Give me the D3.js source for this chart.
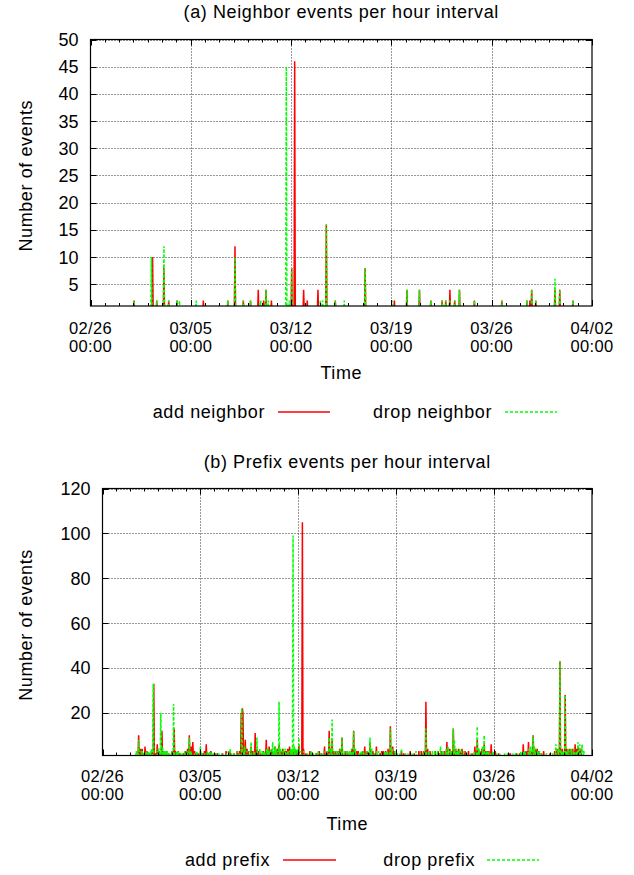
<!DOCTYPE html>
<html>
<head>
<meta charset="utf-8">
<script src="https://cdn.jsdelivr.net/npm/d3@7"></script>
<style>
  html, body { margin: 0; padding: 0; background: #fff; }
  svg text { font-family: "Liberation Sans", Arial, Helvetica, sans-serif; fill: #000; }
</style>
</head>
<body>
<svg id="chart" width="634" height="875"></svg>
<script>
// ---------- DATA (hour offset from 02/26 00:00, events in that hour) ----------
const startDate = Date.UTC(2007, 1, 26);
const endDate = Date.UTC(2007, 3, 2);
const xTickLabels = ["02/26", "03/05", "03/12", "03/19", "03/26", "04/02"];
const xTickDays = [0, 7, 14, 21, 28, 35];

const neighborTicks = [5, 10, 15, 20, 25, 30, 35, 40, 45, 50];
const prefixTicks = [20, 40, 60, 80, 100, 120];

const addNeighbor = [[73,2],[104,10],[111,2],[123,8],[131,2],[145,2],[189,2],[230,2],[242,12],[256,2],[268,2],[281,4],[290,2],[294,4],[303,2],[337,8],[342,46],[357,4],[363,2],[381,4],[395,16],[410,2],[460,8],[509,2],[530,4],[551,4],[570,2],[589,2],[595,2],[602,4],[610,2],[618,4],[643,2],[689,2],[731,2],[736,2],[739,4],[746,2],[778,4],[786,4],[808,2]];
const dropNeighbor = [[73,2],[102,10],[111,2],[123,12],[131,2],[145,2],[149,2],[177,2],[230,2],[242,10],[256,2],[268,2],[285,2],[294,4],[298,2],[328,45],[333,2],[337,8],[385,2],[389,2],[395,16],[410,2],[425,2],[460,8],[505,2],[530,4],[551,4],[570,2],[589,2],[595,2],[602,2],[610,2],[618,4],[643,2],[689,2],[731,2],[739,4],[746,2],[778,6],[786,4],[808,2]];

const addPrefix = [[62,10],[65,4],[68,4],[73,5],[76,3],[80,2],[84,3],[88,33],[91,2],[94,6],[97,3],[102,12],[106,2],[110,3],[113,2],[119,3],[123,13],[125,3],[130,3],[133,2],[139,2],[143,3],[146,4],[149,10],[152,5],[155,7],[158,3],[161,2],[164,2],[168,3],[172,2],[175,3],[178,6],[181,2],[186,3],[193,2],[197,2],[206,2],[212,3],[219,3],[226,2],[231,3],[235,3],[238,20],[240,22],[241,20],[245,8],[248,4],[250,3],[255,5],[258,3],[262,11],[265,4],[268,3],[272,2],[276,3],[281,8],[283,4],[286,5],[289,3],[291,4],[293,3],[296,5],[298,3],[300,4],[303,6],[306,3],[309,4],[312,3],[315,3],[318,4],[321,5],[325,3],[327,4],[330,3],[333,3],[337,6],[343,105],[345,4],[349,2],[356,3],[360,2],[367,2],[372,3],[376,2],[381,5],[385,3],[389,12],[392,4],[394,8],[397,3],[400,3],[404,3],[407,4],[411,9],[416,3],[420,3],[424,3],[428,4],[431,12],[436,3],[439,3],[443,2],[447,3],[450,5],[454,3],[459,7],[464,3],[467,2],[470,5],[476,2],[479,3],[482,3],[486,3],[490,4],[494,14],[498,5],[501,3],[505,2],[513,3],[517,2],[528,3],[535,2],[543,3],[547,3],[551,3],[555,25],[558,4],[562,3],[571,3],[576,3],[579,2],[582,3],[587,3],[591,7],[596,4],[599,3],[602,13],[606,4],[609,3],[611,4],[614,3],[617,4],[622,3],[628,3],[634,2],[639,5],[643,8],[645,4],[648,3],[651,4],[655,6],[658,3],[660,3],[663,3],[667,6],[670,2],[674,3],[680,2],[697,2],[700,2],[710,2],[716,2],[722,6],[726,3],[729,3],[731,7],[736,3],[739,10],[743,4],[746,4],[749,3],[753,2],[757,3],[768,2],[776,3],[780,4],[785,43],[789,4],[794,28],[797,4],[800,3],[802,4],[804,3],[807,4],[811,6],[814,4],[816,5],[819,3],[821,4]];
const dropPrefix = [[58,3],[62,8],[66,3],[68,3],[71,2],[75,3],[79,3],[82,2],[84,4],[87,33],[93,3],[96,4],[100,20],[103,5],[105,3],[107,3],[109,3],[111,3],[114,2],[116,2],[119,3],[122,24],[127,3],[130,3],[134,2],[137,2],[141,3],[145,3],[149,9],[152,3],[158,2],[162,3],[168,5],[171,2],[175,2],[180,3],[184,3],[187,2],[190,2],[195,2],[200,2],[205,2],[212,2],[216,3],[219,4],[222,2],[226,2],[231,3],[235,2],[239,22],[241,4],[244,5],[248,3],[252,3],[255,7],[260,3],[265,9],[270,4],[274,3],[277,3],[279,2],[282,4],[284,4],[286,3],[288,4],[292,7],[294,3],[296,5],[298,4],[300,3],[303,25],[305,4],[308,3],[311,4],[314,4],[318,3],[320,3],[323,4],[325,4],[327,99],[329,5],[331,4],[334,4],[337,9],[340,3],[345,3],[352,2],[358,3],[362,2],[366,2],[370,3],[375,2],[380,3],[385,3],[389,9],[392,4],[394,17],[398,3],[401,3],[404,3],[408,4],[411,9],[415,3],[420,3],[424,3],[427,4],[431,12],[434,4],[440,2],[444,3],[448,3],[452,2],[454,3],[459,9],[462,4],[466,2],[470,3],[474,3],[479,2],[485,3],[489,3],[494,13],[497,4],[502,3],[506,2],[510,2],[513,4],[520,2],[524,2],[532,2],[538,3],[545,2],[552,3],[555,13],[560,3],[566,3],[570,3],[575,3],[580,5],[585,3],[590,4],[593,5],[596,3],[598,3],[602,13],[604,8],[607,4],[610,3],[613,4],[616,3],[620,3],[625,2],[632,2],[638,3],[643,14],[646,4],[648,3],[652,5],[655,10],[659,3],[662,3],[666,2],[670,3],[677,2],[682,2],[690,2],[695,2],[704,2],[708,2],[712,2],[718,3],[722,3],[725,3],[731,4],[735,5],[739,10],[741,5],[744,4],[747,3],[750,3],[754,2],[762,2],[772,2],[778,6],[782,4],[785,43],[788,3],[791,3],[794,28],[797,3],[799,4],[802,3],[805,4],[809,4],[813,3],[816,7],[819,6],[823,6],[826,3]];

// ---------- DRAWING ----------
const svg = d3.select("#chart");
const HOUR = 3600e3;
const totalHours = (endDate - startDate) / HOUR;
const WORD_SPACING = "0.6px";

function hourly(pairs) {
  const m = new Map(pairs.map(d => [d[0], d[1]]));
  return d3.range(0, totalHours + 1).map(h => ({ t: new Date(startDate + h * HOUR), v: m.get(h) || 0 }));
}

function drawPanel(cfg) {
  const { left, right, top, bottom, yMax, yTicks, series, title, titleY, labY1, labGap, timeY, legendY, legend, id } = cfg;
  const x = d3.scaleUtc().domain([new Date(startDate), new Date(endDate)]).range([left, right]);
  const y = d3.scaleLinear().domain([1, yMax]).range([bottom, top]);
  const g = svg.append("g");

  svg.append("clipPath").attr("id", id).append("rect")
    .attr("x", left).attr("y", top).attr("width", right - left).attr("height", bottom - top);

  const majorDates = xTickDays.map(d => new Date(startDate + d * 24 * HOUR));
  const minorDates = d3.utcDay.range(new Date(startDate), new Date(endDate + 1));

  // grid
  g.selectAll(".gy").data(yTicks).join("line")
    .attr("x1", left).attr("x2", right)
    .attr("y1", d => Math.round(y(d)) + 0.5).attr("y2", d => Math.round(y(d)) + 0.5)
    .attr("stroke", "#333").attr("stroke-width", 1).attr("stroke-dasharray", "1,2");
  g.selectAll(".gx").data(majorDates.slice(1, -1)).join("line")
    .attr("x1", d => Math.round(x(d)) + 0.5).attr("x2", d => Math.round(x(d)) + 0.5)
    .attr("y1", top).attr("y2", bottom)
    .attr("stroke", "#333").attr("stroke-width", 1).attr("stroke-dasharray", "1,2");

  // series
  const line = d3.line().x(d => x(d.t)).y(d => y(d.v));
  series.forEach(s => {
    g.append("path").datum(hourly(s.data))
      .attr("clip-path", `url(#${id})`)
      .attr("fill", "none").attr("stroke", s.color).attr("stroke-width", 1.5)
      .attr("stroke-dasharray", s.dash || null)
      .attr("d", line);
  });

  // ticks
  const tk = g.append("g").attr("stroke", "#000").attr("stroke-width", 1);
  minorDates.forEach(d => {
    const px = Math.round(x(d)) + 0.5;
    tk.append("line").attr("x1", px).attr("x2", px).attr("y1", bottom).attr("y2", bottom - 3);
    tk.append("line").attr("x1", px).attr("x2", px).attr("y1", top).attr("y2", top + 3);
  });
  majorDates.forEach(d => {
    const px = Math.round(x(d)) + 0.5;
    tk.append("line").attr("x1", px).attr("x2", px).attr("y1", bottom).attr("y2", bottom - 6);
    tk.append("line").attr("x1", px).attr("x2", px).attr("y1", top).attr("y2", top + 6);
  });
  yTicks.forEach(v => {
    const py = Math.round(y(v)) + 0.5;
    tk.append("line").attr("x1", left).attr("x2", left + 6).attr("y1", py).attr("y2", py);
    tk.append("line").attr("x1", right).attr("x2", right - 6).attr("y1", py).attr("y2", py);
  });

  // frame
  g.append("rect").attr("x", left).attr("y", top).attr("width", right - left).attr("height", bottom - top)
    .attr("fill", "none").attr("stroke", "#000").attr("stroke-width", 1.2);

  // labels
  g.selectAll(".yl").data(yTicks).join("text")
    .attr("x", left - 12).attr("y", d => y(d)).attr("dy", "0.36em")
    .attr("text-anchor", "end").attr("font-size", 18).text(d => d);
  majorDates.forEach((d, i) => {
    g.append("text").attr("x", x(d)).attr("y", labY1).attr("text-anchor", "middle")
      .attr("font-size", 16.5).attr("letter-spacing", "0.3px").text(xTickLabels[i]);
    g.append("text").attr("x", x(d)).attr("y", labY1 + labGap).attr("text-anchor", "middle")
      .attr("font-size", 16.5).attr("letter-spacing", "0.3px").text("00:00");
  });
  g.append("text").attr("x", (left + right) / 2).attr("y", timeY).attr("text-anchor", "middle")
    .attr("font-size", 18).attr("letter-spacing", WORD_SPACING).text("Time");
  g.append("text").attr("x", (left + right) / 2).attr("y", titleY).attr("text-anchor", "middle")
    .attr("font-size", 18).attr("letter-spacing", WORD_SPACING).text(title);
  g.append("text").attr("transform", `translate(31.5,${(top + bottom) / 2 + 3}) rotate(-90)`)
    .attr("text-anchor", "middle").attr("font-size", 18).attr("letter-spacing", WORD_SPACING).text("Number of events");

  // legend
  legend.forEach((l, i) => {
    const s = series[i];
    g.append("text").attr("x", l.textEnd).attr("y", legendY).attr("text-anchor", "end")
      .attr("font-size", 18).attr("letter-spacing", WORD_SPACING).text(l.label);
    g.append("line").attr("x1", l.x1).attr("x2", l.x2).attr("y1", legendY - 6).attr("y2", legendY - 6)
      .attr("stroke", s.color).attr("stroke-width", 1.5).attr("stroke-dasharray", s.dash || null);
  });
}

drawPanel({
  id: "clipA", left: 90.5, right: 592, top: 39.5, bottom: 306, yMax: 50, yTicks: neighborTicks,
  series: [{ data: addNeighbor, color: "#ff0000" }, { data: dropNeighbor, color: "#00ff00", dash: "3,2" }],
  title: "(a) Neighbor events per hour interval", titleY: 18,
  labY1: 333.5, labGap: 18.6, timeY: 379, legendY: 418,
  legend: [{ label: "add neighbor", textEnd: 265, x1: 278, x2: 330 }, { label: "drop neighbor", textEnd: 492, x1: 505, x2: 557 }]
});

drawPanel({
  id: "clipB", left: 102.5, right: 592, top: 488.5, bottom: 755.5, yMax: 120, yTicks: prefixTicks,
  series: [{ data: addPrefix, color: "#ff0000" }, { data: dropPrefix, color: "#00ff00", dash: "3,2" }],
  title: "(b) Prefix events per hour interval", titleY: 468,
  labY1: 781.5, labGap: 18.6, timeY: 830, legendY: 866,
  legend: [{ label: "add prefix", textEnd: 270, x1: 283, x2: 336 }, { label: "drop prefix", textEnd: 475, x1: 487, x2: 539 }]
});
</script>
</body>
</html>
